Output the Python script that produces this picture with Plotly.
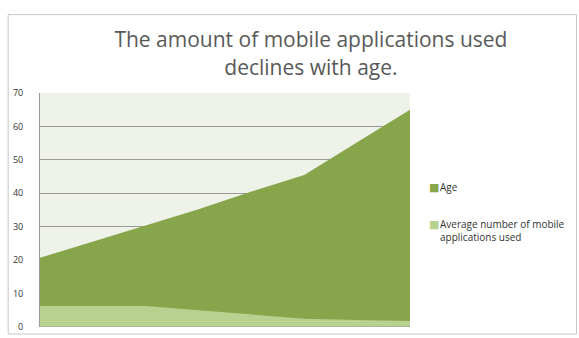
import plotly.graph_objects as go

# Eight evenly spaced survey groups, youngest to oldest
groups = list(range(8))
age = [20.7, 25.5, 30.3, 35.2, 40.5, 45.5, 55.3, 65.0]
avg_apps = [6.3, 6.4, 6.3, 5.0, 3.8, 2.5, 2.1, 1.8]

series_names = ["Age", "Average number of mobile<br>applications used"]
age_color = "#87a54a"
apps_color = "#b7d18f"
colors = [age_color, apps_color]

fig = go.Figure()

fig.add_trace(go.Scatter(
    x=groups, y=age, mode="lines", fill="tozeroy", name=series_names[0],
    line=dict(color=age_color, width=0), fillcolor=age_color,
    showlegend=False, hoverinfo="skip",
))
fig.add_trace(go.Scatter(
    x=groups, y=avg_apps, mode="lines", fill="tozeroy", name=series_names[1],
    line=dict(color=apps_color, width=0), fillcolor=apps_color,
    showlegend=False, hoverinfo="skip",
))

fig.update_layout(
    width=579, height=338,
    margin=dict(l=40, r=169, t=93, b=11, autoexpand=False),
    paper_bgcolor="white",
    plot_bgcolor="#eef2e8",
    font=dict(family="Open Sans, sans-serif", color="#404040"),
    title=dict(
        text="The amount of mobile applications used<br>declines with age.",
        x=0.537, xanchor="center", y=0.86, yanchor="top",
        font=dict(size=21, color="#595959", family="Open Sans, sans-serif"),
    ),
    xaxis=dict(
        range=[0, 7], showticklabels=False, showgrid=False,
        zeroline=False, showline=False, ticks="",
    ),
    yaxis=dict(
        range=[0, 70], dtick=10, showgrid=True, gridcolor="#9a9a9a",
        gridwidth=1, zeroline=False, showline=True, linecolor="#9a9a9a",
        linewidth=1, ticks="", tickfont=dict(size=9, color="#333333"),
        ticklabelstandoff=14,
    ),
    showlegend=False,
)

# legend: square swatch followed by the series name
legend_y = [0.635, 0.478]
for name, col, ly in zip(series_names, colors, legend_y):
    fig.add_annotation(
        xref="paper", yref="paper", x=1.045, y=ly - 0.004,
        xanchor="left", yanchor="top", showarrow=False,
        text="■", font=dict(size=11, color=col, family="DejaVu Sans"),
    )
    fig.add_annotation(
        xref="paper", yref="paper", x=1.077, y=ly,
        xanchor="left", yanchor="top", align="left", showarrow=False,
        text=name,
        font=dict(size=10, color="#333333", family="Open Sans, sans-serif"),
    )

# baseline along zero
fig.add_shape(type="line", xref="paper", yref="y", x0=0, x1=1, y0=0, y1=0,
              line=dict(color="#9a9a9a", width=1), layer="above")

# outer chart frame
fig.add_shape(type="rect", xref="paper", yref="paper",
              x0=-0.086, x1=1.45, y0=-0.03, y1=1.335,
              line=dict(color="#c8c8c8", width=1), layer="below")

fig.write_html("out.html")
